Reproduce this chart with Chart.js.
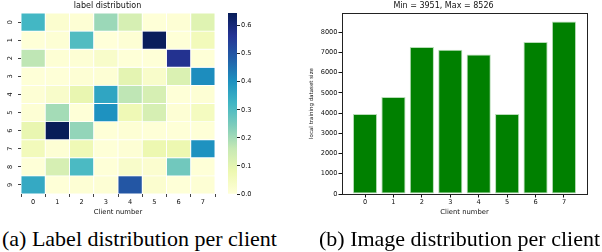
<!DOCTYPE html>
<html lang="en">
<head>
  <meta charset="UTF-8">
  <title>Label and image distribution per client</title>
  <style>
    body {
      margin: 0;
      background: #fff;
      width: 602px;
      height: 252px;
      position: relative;
      overflow: hidden;
    }
    canvas { position: absolute; top: 0; }
    #heatChart { left: 0; }
    #barScale  { left: 220px; }
    #barChart  { left: 300px; }
    .caption {
      position: absolute;
      top: 228px;
      font-family: "Liberation Serif", "Times New Roman", serif;
      font-size: 22px;
      line-height: 1;
      color: #000;
      white-space: nowrap;
    }
  </style>
</head>
<body>
  <canvas id="heatChart" width="222" height="222"></canvas>
  <canvas id="barScale" width="50" height="222"></canvas>
  <canvas id="barChart" width="302" height="222"></canvas>
  <div class="caption" style="left:2px">(a) Label distribution per client</div>
  <div class="caption" style="left:319px">(b) Image distribution per client</div>

  <script src="https://cdn.jsdelivr.net/npm/chart.js"></script>
  <script>
    // clients on x, labels on y
    const clients = ['0', '1', '2', '3', '4', '5', '6', '7'];
    const labelRows = ['0', '1', '2', '3', '4', '5', '6', '7', '8', '9'];

    // share of each label (row) held by each client (column)
    const labelShare = [
      [0.32, 0.02, 0.01, 0.21, 0.13, 0.005, 0.01, 0.11],
      [0.005, 0.01, 0.30, 0.0, 0.01, 0.64, 0.005, 0.06],
      [0.17, 0.01, 0.01, 0.03, 0.005, 0.005, 0.57, 0.005],
      [0.005, 0.005, 0.01, 0.01, 0.10, 0.03, 0.12, 0.41],
      [0.01, 0.03, 0.09, 0.36, 0.17, 0.13, 0.005, 0.01],
      [0.01, 0.20, 0.005, 0.40, 0.07, 0.13, 0.01, 0.05],
      [0.09, 0.645, 0.22, 0.005, 0.01, 0.005, 0.005, 0.005],
      [0.06, 0.01, 0.07, 0.005, 0.01, 0.08, 0.08, 0.40],
      [0.005, 0.13, 0.31, 0.005, 0.03, 0.02, 0.26, 0.005],
      [0.35, 0.005, 0.01, 0.01, 0.50, 0.02, 0.005, 0.01]
    ];
    const shareMax = 0.645;
    const shareTicks = [0, 0.1, 0.2, 0.3, 0.4, 0.5, 0.6];

    // local training dataset size per client
    const imageCounts = [3951, 4800, 7270, 7140, 6900, 3962, 7520, 8526];
    const countTicks = [0, 1000, 2000, 3000, 4000, 5000, 6000, 7000, 8000];

    const tickFont = { family: 'DejaVu Sans', size: 6.6 };
    const titleFont = { family: 'DejaVu Sans', size: 8, weight: 'normal' };
    const labelFont = { family: 'DejaVu Sans', size: 6.8 };

    // YlGnBu
    const ylgnbu = ['#ffffd9', '#edf8b1', '#c7e9b4', '#7fcdbb', '#41b6c4', '#1d91c0', '#225ea8', '#253494', '#081d58'];
    function hex(c) { return [1, 3, 5].map(i => parseInt(c.substr(i, 2), 16)); }
    function cmap(v) {
      let f = Math.max(0, Math.min(1, v / shareMax)) * (ylgnbu.length - 1);
      const i = Math.min(Math.floor(f), ylgnbu.length - 2);
      const t = f - i;
      const a = hex(ylgnbu[i]), b = hex(ylgnbu[i + 1]);
      const c = a.map((x, k) => Math.round(x + (b[k] - x) * t));
      return `rgb(${c[0]},${c[1]},${c[2]})`;
    }

    Chart.defaults.animation = false;
    Chart.defaults.color = '#111';

    // rotated row labels on the heatmap (seaborn style)
    const rotatedRowLabels = {
      id: 'rotatedRowLabels',
      afterDraw(chart) {
        const s = chart.scales.yl, ctx = chart.ctx;
        ctx.save();
        ctx.font = '6.6px "DejaVu Sans"';
        ctx.fillStyle = '#111';
        ctx.textAlign = 'center';
        ctx.textBaseline = 'middle';
        s.ticks.forEach((t, i) => {
          ctx.save();
          ctx.translate(10, s.getPixelForTick(i));
          ctx.rotate(-Math.PI / 2);
          ctx.fillText(labelRows[i], 0, 0);
          ctx.restore();
        });
        ctx.restore();
      }
    };

    // 1) heatmap as stacked unit bars
    new Chart(document.getElementById('heatChart'), {
      type: 'bar',
      data: {
        labels: clients,
        datasets: labelRows.map((r, i) => ({
          label: r,
          data: clients.map(() => 1),
          backgroundColor: labelShare[i].map(cmap),
          borderColor: '#fff',
          borderWidth: 0.8,
          borderSkipped: false,
          barPercentage: 1,
          categoryPercentage: 1
        }))
      },
      options: {
        responsive: false,
        layout: { padding: { right: 7 } },
        plugins: {
          legend: { display: false },
          tooltip: { enabled: false },
          title: { display: true, text: 'label distribution', font: titleFont, color: '#111', padding: { top: 1, bottom: 2.4 } }
        },
        scales: {
          x: {
            stacked: true,
            grid: { drawOnChartArea: false, drawTicks: true, tickLength: 3, color: '#444' },
            border: { display: false },
            ticks: { font: tickFont, padding: 1, color: '#111' },
            title: { display: true, text: 'Client number', font: labelFont, color: '#111', padding: { top: 0, bottom: 6 } },
            afterFit: s => { s.height = 28; }
          },
          y: {
            stacked: true, display: false, reverse: true, min: 0, max: labelRows.length
          },
          yl: {
            type: 'category', position: 'left', labels: labelRows, offset: true,
            grid: { drawOnChartArea: false, drawTicks: true, tickLength: 3, color: '#444', offset: false },
            border: { display: false },
            ticks: { font: tickFont, color: 'rgba(0,0,0,0)' },
            afterFit: s => { s.width = 21; }
          }
        }
      },
      plugins: [rotatedRowLabels]
    });

    // 2) colour bar
    new Chart(document.getElementById('barScale'), {
      type: 'bar',
      data: {
        labels: [''],
        datasets: [{
          data: [shareMax],
          barPercentage: 1,
          categoryPercentage: 1,
          backgroundColor: ctx => {
            const area = ctx.chart.chartArea;
            if (!area) return ylgnbu[0];
            const g = ctx.chart.ctx.createLinearGradient(0, area.bottom, 0, area.top);
            ylgnbu.forEach((c, i) => g.addColorStop(i / (ylgnbu.length - 1), c));
            return g;
          }
        }]
      },
      options: {
        responsive: false,
        layout: { padding: { left: 8, top: 13, bottom: 28 } },
        plugins: { legend: { display: false }, tooltip: { enabled: false } },
        scales: {
          x: { display: false },
          y: {
            position: 'right', min: 0, max: shareMax,
            grid: { drawOnChartArea: false, drawTicks: true, tickLength: 3, color: '#222' },
            border: { display: false },
            afterBuildTicks: s => { s.ticks = shareTicks.map(v => ({ value: v })); },
            ticks: { font: tickFont, color: '#111', padding: 1, callback: v => v.toFixed(1) },
            afterFit: s => { s.width = 33; }
          }
        }
      }
    });

    // 3) images per client
    new Chart(document.getElementById('barChart'), {
      type: 'bar',
      data: {
        datasets: [{
          data: imageCounts.map((v, i) => ({ x: i, y: v })),
          backgroundColor: '#008000',
          borderColor: '#b8ddb8',
          borderWidth: 1,
          borderSkipped: false,
          barPercentage: 0.85,
          categoryPercentage: 1
        }]
      },
      options: {
        responsive: false,
        layout: { padding: { right: 15 } },
        plugins: {
          legend: { display: false },
          tooltip: { enabled: false },
          title: {
            display: true,
            text: `Min = ${Math.min(...imageCounts)}, Max = ${Math.max(...imageCounts)}`,
            font: titleFont, color: '#111', padding: { top: 1, bottom: 2.4 }
          }
        },
        scales: {
          x: {
            type: 'linear', min: -0.81, max: 7.81, offset: false,
            grid: { drawOnChartArea: false, drawTicks: true, tickLength: 3.5, color: '#111', offset: false },
            border: { display: true, color: '#222', width: 1 },
            afterBuildTicks: s => { s.ticks = clients.map((c, i) => ({ value: i })); },
            ticks: { font: tickFont, padding: 1, color: '#111', callback: v => clients[v] },
            title: { display: true, text: 'Client number', font: labelFont, color: '#111', padding: { top: 0, bottom: 6 } },
            afterFit: s => { s.height = 28; }
          },
          x2: {
            type: 'linear', position: 'top', min: 0, max: 1, offset: false,
            grid: { display: false }, ticks: { display: false },
            border: { display: true, color: '#222', width: 1 },
            afterFit: s => { s.height = 0; }
          },
          y: {
            min: 0, max: 8952,
            grid: { drawOnChartArea: false, drawTicks: true, tickLength: 3.5, color: '#111' },
            border: { display: true, color: '#222', width: 1 },
            afterBuildTicks: s => { s.ticks = countTicks.map(v => ({ value: v })); },
            ticks: { font: tickFont, padding: 1, color: '#111', callback: v => String(v) },
            title: { display: true, text: 'local training dataset size', font: { family: 'DejaVu Sans', size: 5.5 }, color: '#111', padding: { top: 8.7, bottom: 0 } },
            afterFit: s => { s.width = 42; }
          },
          y2: {
            position: 'right', min: 0, max: 1,
            grid: { display: false }, ticks: { display: false },
            border: { display: true, color: '#222', width: 1 },
            afterFit: s => { s.width = 0; }
          }
        }
      }
    });
  </script>
</body>
</html>
